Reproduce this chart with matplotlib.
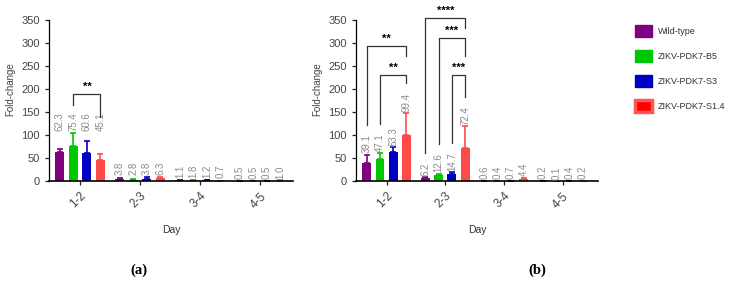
import numpy as np
import matplotlib.pyplot as plt
from matplotlib.patches import Patch

plt.rcParams['font.family'] = ['Liberation Sans', 'DejaVu Sans']

# datos
days = ['1-2', '2-3', '3-4', '4-5']
strains = ['Wild-type', 'ZIKV-PDK7-B5', 'ZIKV-PDK7-S3', 'ZIKV-PDK7-S1.4']
colores = ['#800080', '#00c800', '#0000c0', '#ff4a4a']

# panel (a)
vals_a = [[62.3, 3.8, 1.1, 0.5],
          [75.4, 2.8, 1.8, 0.5],
          [60.6, 3.8, 1.2, 0.5],
          [45.1, 6.3, 0.7, 1.0]]
err_a = [[8, 2, 0.5, 0.2],
         [30, 1, 1, 0.2],
         [27, 4, 0.5, 0.2],
         [13, 3, 0.3, 0.5]]
# (grupo, barra izq, barra der, altura, fin pata izq, fin pata der, texto)
sig_a = [(0, 1, 3, 190, 166, 140, '**')]

# panel (b)
vals_b = [[39.1, 6.2, 0.6, 0.2],
          [47.1, 12.6, 0.4, 0.1],
          [63.3, 14.7, 0.7, 0.4],
          [99.4, 72.4, 4.4, 0.2]]
err_b = [[18, 2, 0.3, 0.1],
         [13, 3.5, 0.2, 0.05],
         [10, 4.5, 0.3, 0.2],
         [48, 47, 3, 0.1]]
sig_b = [(0, 0, 3, 294, 121, 272, '**'),
         (0, 1, 3, 231, 125, 212, '**'),
         (1, 0, 3, 354, 60, 333, '****'),
         (1, 1, 3, 311, 80, 272, '***'),
         (1, 2, 3, 231, 82, 182, '***')]

fig = plt.figure(figsize=(7.38, 2.89), dpi=100)
ax_a = fig.add_axes([49/738, 1 - 181/289, 244/738, 161/289])
ax_b = fig.add_axes([356/738, 1 - 181/289, 242/738, 161/289])

ancho = 0.15
paso = 0.225
x = np.arange(len(days))


def dibujar(ax, vals, errs, sig, modo, xmax):
    for i in range(len(strains)):
        xi = x + (i - 1.5) * paso
        ax.bar(xi, vals[i], width=ancho, color=colores[i], zorder=2)
        ax.errorbar(xi, vals[i], yerr=[np.zeros(len(days)), errs[i]], fmt='none',
                    ecolor=colores[i], elinewidth=1.2, capsize=2, capthick=1.2, zorder=2)
    # etiquetas de valor
    for g in range(len(days)):
        tope_grupo = max(vals[i][g] + errs[i][g] for i in range(len(strains)))
        for i in range(len(strains)):
            xi = x[g] + (i - 1.5) * paso
            if modo == 'grupo':
                y = tope_grupo
            else:
                y = vals[i][g] + errs[i][g]
            ax.annotate(f'{vals[i][g]:.1f}', (xi, y), xytext=(0, 1),
                        textcoords='offset points', rotation=90, ha='center',
                        va='bottom', fontsize=6.9, color='#8a8a8a')
    # corchetes de significancia
    for g, i, j, h, yi, yj, txt in sig:
        x1 = x[g] + (i - 1.5) * paso
        x2 = x[g] + (j - 1.5) * paso
        ax.plot([x1, x1, x2, x2], [yi, h, h, yj], color='#333333', lw=0.9,
                clip_on=False, zorder=3)
        ax.text((x1 + x2) / 2, h + 4, txt, ha='center', va='bottom',
                fontsize=8, fontweight='bold', clip_on=False)

    ax.set_xlim(-0.52, xmax)
    ax.set_ylim(0, 350)
    ax.set_yticks(np.arange(0, 351, 50))
    ax.set_xticks(x)
    ax.set_xticklabels(days, rotation=45, ha='right', rotation_mode='anchor')
    ax.tick_params(axis='both', labelsize=8, length=3, width=0.9,
                   colors='#222222', labelcolor='#444444')
    ax.tick_params(axis='x', labelsize=8.5)
    ax.spines['top'].set_visible(False)
    ax.spines['right'].set_visible(False)
    ax.spines['left'].set_linewidth(0.9)
    ax.spines['bottom'].set_linewidth(1.2)
    ax.set_xlabel('Day', fontsize=7.5, color='#333333', labelpad=10)
    ax.set_ylabel('Fold-change', fontsize=7, color='#444444')
    ax.yaxis.set_label_coords(-34 / 244, 0.57)


dibujar(ax_a, vals_a, err_a, sig_a, 'grupo', 3.55)
dibujar(ax_b, vals_b, err_b, sig_b, 'barra', 3.6)

# leyenda
handles = [Patch(facecolor=c, edgecolor=c) for c in colores[:3]]
handles.append(Patch(facecolor='#ff0000', edgecolor='#ff5555', linewidth=2.5))
fig.legend(handles, strains, loc='upper left', bbox_to_anchor=(635/738, 1 - 25/289),
           frameon=False, fontsize=6.5, handlelength=1.9, handleheight=1.67,
           labelspacing=1.45, handletextpad=0.67, borderpad=0, borderaxespad=0,
           labelcolor='#333333')

fig.text(139/738, 1 - 270/289, '(a)', ha='center', va='center', fontsize=10.5,
         family='Liberation Serif', fontweight='bold')
fig.text(537/738, 1 - 270/289, '(b)', ha='center', va='center', fontsize=10.5,
         family='Liberation Serif', fontweight='bold')

plt.savefig('out.png', dpi=100)
